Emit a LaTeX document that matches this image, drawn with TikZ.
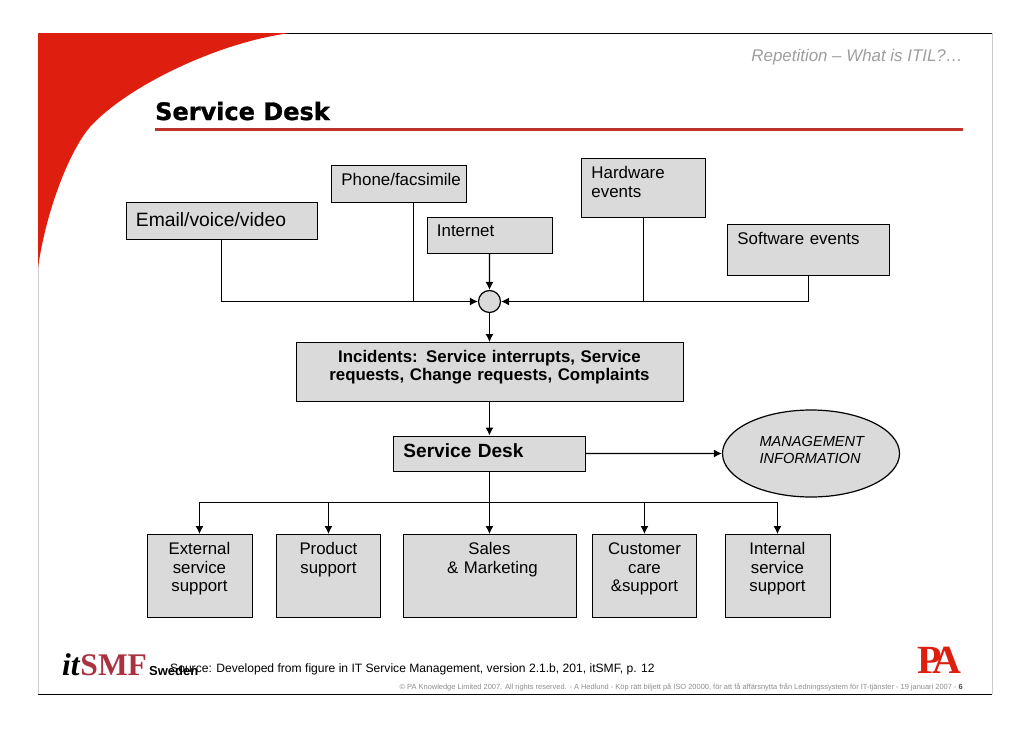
\documentclass[tikz,border=0pt]{standalone}
\usepackage{fontspec}
\setmainfont{Liberation Sans}
\newfontfamily\titlefont[BoldFeatures={FakeBold=1.2}]{DejaVu Sans}
\newfontfamily\logofont{Liberation Serif}
\usetikzlibrary{shapes}
\usetikzlibrary{arrows.meta}
\definecolor{slideRed}{HTML}{DE1F0F}
\definecolor{ruleRed}{HTML}{BD3428}
\definecolor{boxGray}{HTML}{DADADA}
\definecolor{smfRed}{HTML}{A8323F}
\begin{document}
\begin{tikzpicture}
[x=1pt,y=-1pt,%
  lineDecorate/.style={-,line width=1.2pt},%
  arrowDecorate/.style={-{Latex[length=8pt,width=8pt]},line width=1.2pt},%
  boxDecorate/.style={shape=rectangle,draw,fill=boxGray,line width=0.9pt,anchor=north west,inner xsep=10pt,inner ysep=0pt,font=\fontsize{16.8}{18.6}\selectfont},%
  plainText/.style={inner sep=0pt,anchor=base west}]
\useasboundingbox (0,0) rectangle (1030,728);
%% slide frame and red corner
\draw[black!20,line width=0.8pt] (38,33) -- (38,694) (992,33) -- (992,694);
\draw[black,line width=0.8pt] (38,33) -- (992,33);
\draw[black,line width=1pt] (38,694) -- (992,694);
\fill[slideRed] (38,33) -- (290,33)
  .. controls (215,43) and (125,88) .. (90,127)
  .. controls (70,150) and (46,210) .. (38,268) -- cycle;
%% header
\node[plainText,anchor=base east,text=black!38,font=\fontsize{16.9}{18}\selectfont\itshape] (topic) at (963,61) {Repetition -- What is ITIL?…};
\node[plainText,font=\fontsize{24}{26}\titlefont\bfseries] (title) at (155,120) {Service Desk};
\draw[ruleRed,line width=3pt] (155,129) -- (963,129);
%% input boxes
\foreach \nodename/\x/\y/\w/\top/\dep/\fsize/\txt in {
  email/125.5/202/171/24/13/19.3/{Email/voice/video},
  phone/331/165/115/20/17/16.9/{Phone/facsimile},
  internet/426.5/217/105/19/17/16.9/{Internet},
  hardware/581/158/104/20/39/16.9/{Hardware\\events},
  software/727/224/142/20/31/16.9/{Software events}}
{
  \node[boxDecorate,align=left,text width=\w pt,text height=\top pt,text depth=\dep pt,font=\fontsize{\fsize}{18.7}\selectfont] (\nodename) at (\x,\y) {\txt};
}
%% collecting circle
\node[shape=circle,draw,fill=boxGray,line width=1.2pt,minimum size=22pt,inner sep=0pt] (hub) at (489.5,301.5) {};
\node[boxDecorate,align=center,text width=367pt,text height=20pt,text depth=39pt,font=\fontsize{16.85}{18.2}\selectfont\bfseries] (incidents) at (295.5,342) {Incidents: Service interrupts, Service\\requests, Change requests, Complaints};
\node[boxDecorate,align=left,text width=172pt,text height=22pt,text depth=13pt,font=\fontsize{19.1}{20}\selectfont\bfseries] (desk) at (393,435.5) {Service Desk};
\node[shape=ellipse,draw,fill=boxGray,line width=1.2pt,minimum width=177pt,minimum height=87pt,inner sep=0pt,align=left,text width=103pt,text height=15pt,text depth=29pt,font=\fontsize{14.6}{17}\selectfont\itshape] (mgmt) at (811,453.5) {MANAGEMENT\\INFORMATION};
%% output boxes
\foreach \nodename/\x/\w/\txt in {
  external/146.5/85/{External\\service\\support},
  product/276/84/{Product\\support},
  sales/402.5/153/{Sales\\\hspace*{6pt}\& Marketing},
  customer/592/84/{Customer\\care\\\&support},
  internal/724.5/85/{Internal\\service\\support}}
{
  \node[boxDecorate,align=center,text width=\w pt,text height=20pt,text depth=63pt] (\nodename) at (\x,534) {\txt};
}
%% connect inputs to circle
\coordinate (phoneDrop) at (413.5,203);
\draw[arrowDecorate] (email.south) |- (hub.west);
\draw[lineDecorate] (phoneDrop) -- (phoneDrop |- hub.west);
\draw[arrowDecorate] (internet.south) -- (hub.north);
\draw[lineDecorate] (hardware.south) -- (hardware.south |- hub.east);
\draw[arrowDecorate] (software.south) |- (hub.east);
%% connect the rest
\draw[arrowDecorate] (hub.south) -- (hub.south |- incidents.north);
\draw[arrowDecorate] (incidents.south) -- (incidents.south |- desk.north);
\draw[arrowDecorate] (desk.east) -- (mgmt.west);
\coordinate (busLevel) at (0,502.5);
\coordinate (bus) at (desk.south |- busLevel);
\draw[lineDecorate] (desk.south) -- (bus);
\foreach \nodename in {external,product,sales,customer,internal}
{
  \draw[arrowDecorate] (bus) -| (\nodename.north);
}
%% footer
\node[plainText,font=\fontsize{31.5}{33}\logofont\bfseries] (itsmf) at (62,675) {\textit{it}\textcolor{smfRed}{SMF}};
\node[plainText,font=\fontsize{13}{14}\selectfont\bfseries] (sweden) at (149,675) {Sweden};
\node[plainText,font=\fontsize{12.1}{14}\selectfont] (source) at (170,672) {Source: Developed from figure in IT Service Management, version 2.1.b, 201, itSMF, p. 12};
\node[plainText,text=slideRed,font=\fontsize{40}{40}\logofont\bfseries] (palogo) at (917,673) {P\kern-9pt A};
\node[plainText,anchor=base east,text=black!45,font=\fontsize{7.45}{8}\selectfont] (copyright) at (963,689) {© PA Knowledge Limited 2007. All rights reserved. - A Hedlund - Köp rätt biljett på ISO 20000, för att få affärsnytta från Ledningssystem för IT-tjänster - 19 januari 2007 -  \textbf{\textcolor{black!70}{6}}};
\end{tikzpicture}
\end{document}
